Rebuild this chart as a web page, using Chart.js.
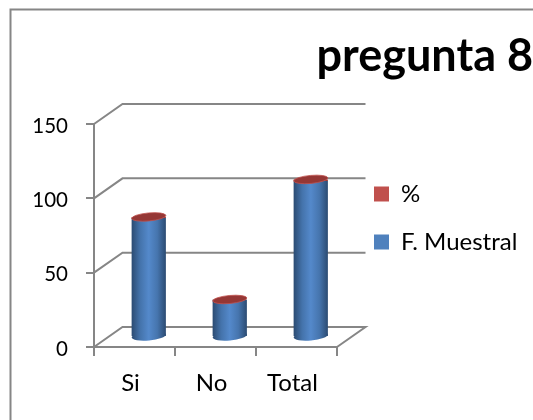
<!DOCTYPE html>
<html>
<head>
<meta charset="utf-8">
<title>pregunta 8</title>
<script src="https://cdn.jsdelivr.net/npm/chart.js@4"></script>
<style>
  html, body { margin: 0; padding: 0; background: #fff; overflow: hidden; }
  canvas { display: block; }
</style>
</head>
<body>
<canvas id="myChart" width="533" height="420"></canvas>
<script>
const labels = ['Si', 'No', 'Total'];
const muestral = [80, 25, 105];
const porcentaje = [0.76, 0.24, 1];
const yTicks = [0, 50, 100, 150];
const legendColors = ['#4f81bd', '#c0504d'];

const depthX = 28.5;
const depthY = -20;
const axisGrey = '#868686';
const legendWidth = 196;

// horizontal shading so the bars look like cylinders
function cylinder(context, stops, flat) {
  if (context.type !== 'data') return flat;
  const chart = context.chart;
  const x = chart.scales.x.getPixelForValue(context.dataIndex);
  const w = chart.scales.x.width / labels.length * 0.423;
  // scales have no size yet the first time the legend asks for a colour
  if (!isFinite(x) || !isFinite(w)) return flat;
  const g = chart.ctx.createLinearGradient(x - w / 2, 0, x + w / 2, 0);
  stops.forEach(function(s) { g.addColorStop(s[0], s[1]); });
  return g;
}

const blueStops = [[0, '#2b4b72'], [0.25, '#4473ab'], [0.5, '#5489cb'], [0.75, '#4675ae'], [1, '#2b4b72']];
const redStops = [[0, '#953735'], [0.5, '#c0504d'], [1, '#953735']];

const cylinders3d = {
  id: 'cylinders3d',
  beforeLayout(chart) {
    // the legend reserves a fixed strip, this keeps the plot right edge in place
    const legend = chart.legend;
    if (legend.fitWrapped) return;
    const fit = legend.fit;
    legend.fit = function() {
      fit.call(this);
      this.width = legendWidth;
    };
    legend.fitWrapped = true;
  },
  afterLayout(chart) {
    // legend sits a bit further right and lower than the default place
    const legend = chart.legend;
    legend.left += 13;
    legend.right += 13;
    legend.top += 8;
    legend.bottom += 8;
  },
  beforeDraw(chart) {
    const c = chart.ctx;
    c.save();
    c.strokeStyle = axisGrey;
    c.lineWidth = 2;
    c.beginPath();
    c.moveTo(10.5, 420);
    c.lineTo(10.5, 9.5);
    c.lineTo(chart.width, 9.5);
    c.stroke();
    c.restore();
  },
  beforeDatasetsDraw(chart) {
    const c = chart.ctx;
    const a = chart.chartArea;
    c.save();
    c.strokeStyle = axisGrey;
    c.lineWidth = 2;
    yTicks.forEach(function(v) {
      const y = chart.scales.y.getPixelForValue(v);
      c.beginPath();
      c.moveTo(a.left, y);
      c.lineTo(a.left + depthX, y + depthY);
      c.lineTo(a.right + depthX, y + depthY);
      if (v === 0) c.lineTo(a.right, y);
      c.stroke();
    });
    c.restore();
    c.save();
    c.translate(depthX / 2, depthY / 2);
  },
  afterDatasetsDraw(chart) {
    const c = chart.ctx;
    const base = chart.getDatasetMeta(0).data;
    const top = chart.getDatasetMeta(1).data;
    base.forEach(function(bar, i) {
      const r = bar.width / 2;
      const g = c.createLinearGradient(bar.x - r, 0, bar.x + r, 0);
      blueStops.forEach(function(s) { g.addColorStop(s[0], s[1]); });
      c.fillStyle = g;
      c.beginPath();
      c.ellipse(bar.x, bar.base, r, 4.5, -0.09, 0, Math.PI * 2);
      c.fill();

      c.fillStyle = '#953735';
      c.strokeStyle = '#c0504d';
      c.lineWidth = 0.8;
      c.beginPath();
      c.ellipse(top[i].x, top[i].y, r, 4, -0.09, 0, Math.PI * 2);
      c.fill();
      c.stroke();
    });
    c.restore();
  }
};

new Chart(document.getElementById('myChart'), {
  type: 'bar',
  data: {
    labels: labels,
    datasets: [{
      label: 'F. Muestral',
      data: muestral,
      backgroundColor: function(context) { return cylinder(context, blueStops, legendColors[0]); }
    }, {
      label: '%',
      data: porcentaje,
      backgroundColor: function(context) { return cylinder(context, redStops, legendColors[1]); }
    }]
  },
  options: {
    responsive: false,
    animation: false,
    devicePixelRatio: 1,
    layout: { padding: 0 },
    datasets: { bar: { categoryPercentage: 1, barPercentage: 0.423 } },
    plugins: {
      title: {
        display: true,
        text: 'pregunta 8',
        align: 'end',
        color: '#000',
        font: { family: 'Lato', size: 45, weight: 'bold' },
        padding: { top: 29, bottom: 41 }
      },
      legend: {
        position: 'right',
        reverse: true,
        labels: {
          boxWidth: 15,
          boxHeight: 15,
          padding: 24,
          color: '#000',
          font: { family: 'Lato', size: 24 },
          generateLabels(chart) {
            const items = Chart.defaults.plugins.legend.labels.generateLabels(chart);
            items.forEach(function(item) {
              item.fillStyle = legendColors[item.datasetIndex];
              item.strokeStyle = legendColors[item.datasetIndex];
            });
            return items;
          }
        }
      },
      tooltip: { enabled: false }
    },
    scales: {
      x: {
        stacked: true,
        afterFit(scale) { scale.height = 73; },
        border: { color: axisGrey, width: 2 },
        grid: { drawOnChartArea: false, color: axisGrey, lineWidth: 2, tickLength: 9 },
        ticks: { color: '#000', padding: 13, maxRotation: 0, labelOffset: -4, font: { family: 'Lato', size: 24 } }
      },
      y: {
        stacked: true,
        min: 0,
        max: 150,
        afterFit(scale) { scale.width = 94; },
        border: { color: axisGrey, width: 2 },
        grid: { drawOnChartArea: false, color: axisGrey, lineWidth: 2, tickLength: 8 },
        ticks: { color: '#000', padding: 18, stepSize: 50, labelOffset: 2, font: { family: 'Lato', size: 20.5 } }
      }
    }
  },
  plugins: [cylinders3d]
});
</script>
</body>
</html>
